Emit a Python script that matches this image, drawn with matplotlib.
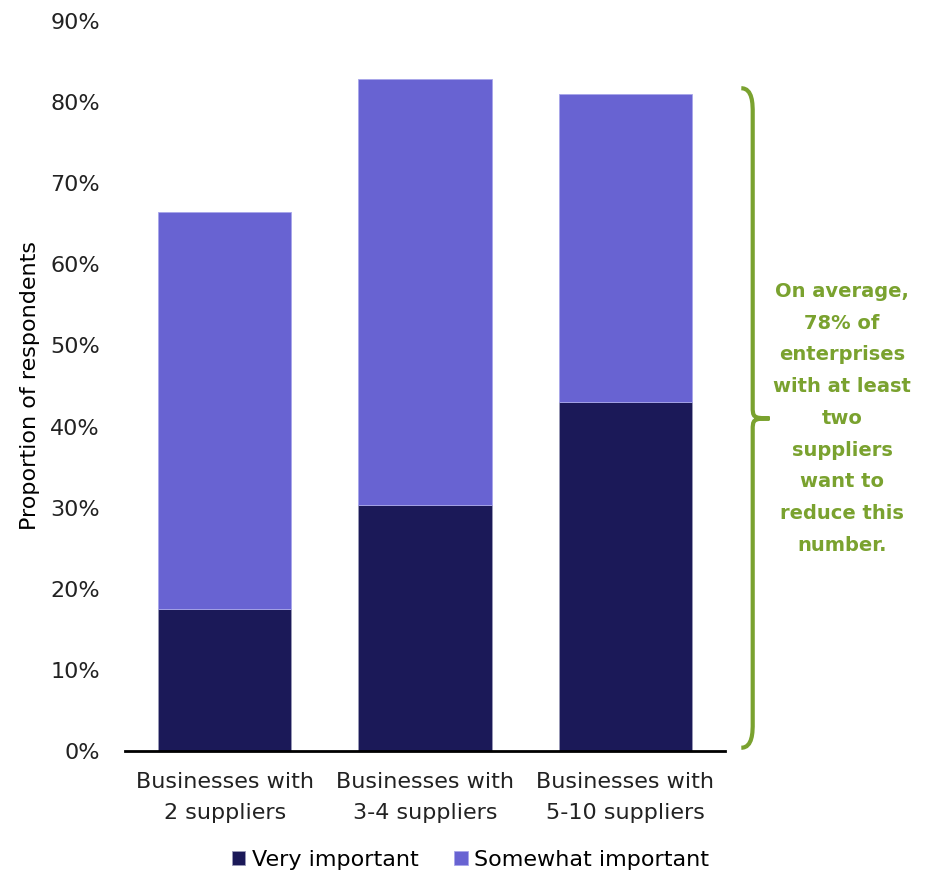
""" Supplier reduction chart """
import matplotlib.pyplot as plt
from matplotlib.path import Path
from matplotlib.patches import PathPatch
from matplotlib.transforms import blended_transform_factory

plt.rcParams['font.family'] = ['DejaVu Sans']

categories = ['Businesses with\n2 suppliers', 'Businesses with\n3-4 suppliers',
              'Businesses with\n5-10 suppliers']
very_important = [17.5, 30.3, 43.0]  # dark segment
somewhat_important = [49.0, 52.6, 38.0]  # stacked on top
note = 'On average,\n78% of\nenterprises\nwith at least\ntwo\nsuppliers\nwant to\nreduce this\nnumber.'

dark = '#1B1958'
light = '#6863D2'
green = '#7AA22F'

fig = plt.figure(figsize=(9.32, 8.72), dpi=100)
ax = fig.add_axes([0.134, 0.1388, 0.644, 0.8372])

x = range(len(categories))
ax.bar(x, very_important, width=0.665, color=dark, edgecolor='#9a9ab8', linewidth=0.6,
       label='Very important')
ax.bar(x, somewhat_important, width=0.665, bottom=very_important, color=light,
       edgecolor='#a8a6ea', linewidth=0.6, label='Somewhat important')

ax.set_xlim(-0.5, 2.5)
ax.set_ylim(0, 90)
ax.set_yticks(range(0, 91, 10))
ax.set_yticklabels([f'{v}%' for v in range(0, 91, 10)])
ax.set_xticks(list(x))
ax.set_xticklabels(categories, linespacing=1.7)
ax.tick_params(length=0, labelsize=16, colors='#222222')
ax.tick_params(axis='y', pad=18)
ax.tick_params(axis='x', pad=15)
for side in ['top', 'right', 'left']:
    ax.spines[side].set_visible(False)
ax.spines['bottom'].set_linewidth(2)
ax.spines['bottom'].set_color('black')
ax.set_ylabel('Proportion of respondents', fontsize=16)
ax.yaxis.set_label_coords(-0.142, 0.5)

# curly bracket to the right of the bars
trans = blended_transform_factory(ax.transAxes, ax.transData)
top, bot, mid = 81.7, 0.4, 41.0
x0, x1, xt = 1.027, 1.046, 1.074
verts = [(x0, top), (x1, top), (x1, top - 2.0), (x1, top - 3.0),
         (x1, mid + 1.5),
         (x1, mid + 0.2), (x1, mid), (xt, mid),
         (x1, mid), (x1, mid - 0.2), (x1, mid - 1.5),
         (x1, bot + 3.0),
         (x1, bot + 2.0), (x1, bot), (x0, bot)]
codes = [Path.MOVETO, Path.CURVE4, Path.CURVE4, Path.CURVE4,
         Path.LINETO,
         Path.CURVE4, Path.CURVE4, Path.CURVE4,
         Path.CURVE4, Path.CURVE4, Path.CURVE4,
         Path.LINETO,
         Path.CURVE4, Path.CURVE4, Path.CURVE4]
brace = PathPatch(Path(verts, codes), transform=trans, fill=False,
                  edgecolor=green, linewidth=3, clip_on=False)
ax.add_patch(brace)

ax.text(1.195, mid, note, transform=trans, ha='center', va='center',
        fontsize=14, fontweight='bold', color=green, linespacing=1.85)

fig.legend(loc='center', bbox_to_anchor=(0.505, 0.014), ncol=2, frameon=False,
           fontsize=16, handlelength=0.6, handleheight=0.6, handletextpad=0.3,
           columnspacing=1.6)

fig.savefig('out.png', dpi=100)
